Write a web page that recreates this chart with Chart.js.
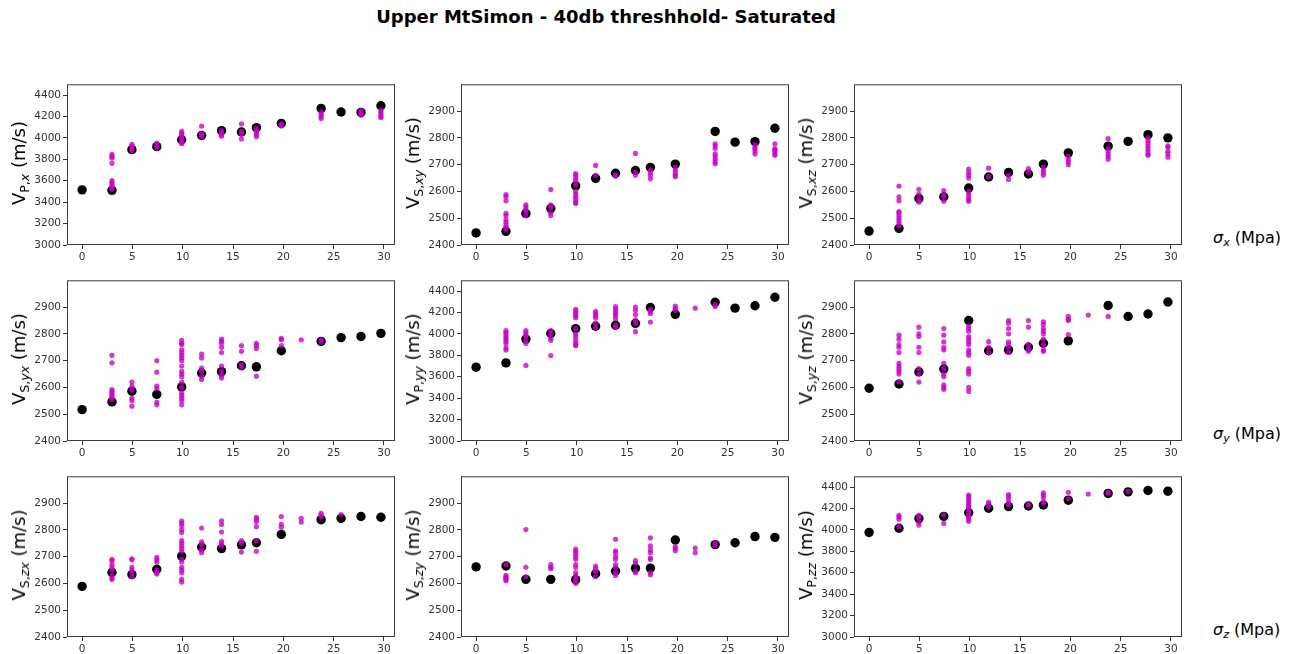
<!DOCTYPE html>
<html>
<head>
<meta charset="utf-8">
<script src="https://cdn.jsdelivr.net/npm/chart.js@4.4.0/dist/chart.umd.min.js"></script>
<style>
  body { margin: 0; background: #fff; font-family: "DejaVu Sans", sans-serif; }
  #page { position: relative; width: 1295px; height: 654px; overflow: hidden; }
  #title { position: absolute; left: 0; width: 1212px; top: 6px; text-align: center;
           font-weight: bold; font-size: 18px; color: #000; }
  .panel { position: absolute; }
  .ylab { position: absolute; white-space: nowrap; font-size: 18px; color: #000;
          transform: translate(-50%, -50%) rotate(-90deg); }
  .ylab sub { font-size: 12.5px; vertical-align: -4px; }
  .sig { position: absolute; white-space: nowrap; font-size: 16px; color: #000;
         transform: translateY(-50%); }
  .sig sub { font-size: 11px; vertical-align: -3px; }
</style>
</head>
<body>
<div id="page">
  <div id="title">Upper MtSimon - 40db threshhold- Saturated</div>
</div>
<script>
// confining stress steps (Mpa)
const stress = [0, 2.97, 4.95, 7.425, 9.9, 11.88, 13.86, 15.84, 17.325, 19.8, 21.78, 23.76, 25.74, 27.72, 29.7];
const xTicks = [0, 5, 10, 15, 20, 25, 30];
const pTicks = [3000, 3200, 3400, 3600, 3800, 4000, 4200, 4400];
const sTicks = [2400, 2500, 2600, 2700, 2800, 2900];

// --- sigma x ---
const vpxMean = [3515, 3510, 3890, 3918, 3982, 4022, 4067, 4055, 4095, 4135, null, 4275, 4241, 4238, 4300];
const vpxAll = [[], [3845, 3826, 3811, 3762, 3600, 3583, 3561, 3546, 3531, 3520], [3940, 3925, 3910, 3895, 3880],
  [3950, 3930, 3905], [4060, 4045, 4030, 4010, 3990, 3970, 3955, 3945], [4110, 4040, 4030, 4010],
  [4070, 4050, 4030, 4015], [4130, 4060, 4040, 3990], [4090, 4070, 4050, 4030, 4010], [4130, 4120, 4110], [],
  [4240, 4220, 4200, 4180], [], [4255, 4240, 4220, 4210], [4260, 4240, 4220, 4200, 4190]];

const vsxyMean = [2445, 2451, 2517, 2536, 2621, 2649, 2668, 2678, 2690, 2702, null, 2824, 2784, 2786, 2836];
const vsxyAll = [[], [2588, 2580, 2565, 2518, 2510, 2495, 2485, 2475, 2466, 2458], [2550, 2542, 2533, 2524, 2510],
  [2607, 2550, 2540, 2520, 2510], [2667, 2660, 2650, 2640, 2625, 2600, 2590, 2580, 2570, 2560, 2555], [2697, 2660],
  [2657, 2662], [2742, 2670, 2660], [2680, 2670, 2660, 2647], [2690, 2680, 2670, 2660, 2655], [],
  [2778, 2770, 2760, 2740, 2730, 2720, 2710, 2703], [], [2775, 2765, 2760, 2750, 2740], [2778, 2760, 2755, 2750, 2740, 2735]];

const vsxzMean = [2452, 2462, 2574, 2580, 2613, 2654, 2671, 2665, 2702, 2744, null, 2769, 2787, 2812, 2800];
const vsxzAll = [[], [2620, 2580, 2565, 2525, 2520, 2510, 2500, 2490, 2480, 2470], [2608, 2590, 2570, 2560],
  [2603, 2590, 2580, 2563], [2683, 2670, 2660, 2650, 2600, 2590, 2580, 2570, 2563], [2687, 2655], [2645, 2660],
  [2685, 2672], [2690, 2680, 2670, 2660], [2730, 2720, 2710, 2700], [], [2797, 2760, 2750, 2740, 2730, 2720], [],
  [2800, 2790, 2780, 2770, 2760, 2750, 2740, 2735], [2770, 2765, 2750, 2740, 2728]];

// --- sigma y ---
const vsyxMean = [2517, 2546, 2586, 2574, 2602, 2654, 2659, 2681, 2677, 2737, null, 2772, 2786, 2790, 2802];
const vsyxAll = [[], [2720, 2692, 2592, 2585, 2578, 2570, 2563, 2555], [2620, 2605, 2590, 2560, 2550, 2530],
  [2700, 2657, 2605, 2595, 2545, 2535],
  [2776, 2765, 2760, 2740, 2730, 2720, 2710, 2700, 2680, 2660, 2650, 2640, 2620, 2600, 2580, 2570, 2560, 2550, 2535],
  [2724, 2710, 2672, 2660, 2640, 2630], [2780, 2772, 2765, 2750, 2730, 2680, 2660, 2645, 2635], [2756, 2735, 2685, 2675],
  [2765, 2757, 2745, 2642], [2783, 2778, 2756], [2778], [2778, 2770], [], [], []];

const vpyyMean = [3689, 3729, 3951, 4003, 4049, 4071, 4080, 4098, 4246, 4182, null, 4295, 4240, 4262, 4342];
const vpyyAll = [[], [4030, 4010, 3990, 3970, 3950, 3930, 3910, 3870, 3850], [4030, 4010, 3990, 3970, 3930, 3910, 3705],
  [4030, 4000, 3960, 3940, 3797], [4230, 4210, 4190, 4170, 4150, 4050, 4000, 3980, 3950, 3920, 3900, 3890],
  [4210, 4190, 4170, 4150, 4100, 4060], [4255, 4230, 4210, 4190, 4170, 4140, 4080, 4060],
  [4250, 4220, 4180, 4130, 4100, 4020], [4230, 4210, 4190, 4110], [4260, 4240, 4220], [4240], [4255, 4270], [], [], []];

const vsyzMean = [2597, 2613, 2658, 2669, 2850, 2737, 2740, 2750, 2765, 2774, null, 2906, 2865, 2874, 2919];
const vsyzAll = [[], [2795, 2780, 2760, 2750, 2730, 2690, 2680, 2670, 2660, 2650, 2620],
  [2825, 2800, 2790, 2750, 2730, 2670, 2650, 2620], [2820, 2795, 2770, 2750, 2740, 2690, 2670, 2650, 2640, 2610, 2600, 2593],
  [2830, 2820, 2810, 2790, 2780, 2770, 2760, 2740, 2730, 2720, 2670, 2660, 2650, 2600, 2585], [2771, 2750, 2730],
  [2850, 2840, 2820, 2800, 2770, 2760, 2750, 2730], [2850, 2825, 2760, 2745, 2735],
  [2845, 2835, 2820, 2810, 2800, 2780, 2760, 2740, 2735], [2865, 2855, 2850, 2797], [2870], [2865], [], [], []];

// --- sigma z ---
const vszxMean = [2589, 2641, 2633, 2653, 2702, 2736, 2730, 2744, 2752, 2783, null, 2838, 2843, 2850, 2847];
const vszxAll = [[], [2690, 2685, 2670, 2660, 2650, 2630, 2620, 2615], [2692, 2688, 2660, 2650, 2640, 2625],
  [2697, 2688, 2680, 2650, 2640, 2635],
  [2833, 2825, 2815, 2800, 2790, 2760, 2750, 2740, 2730, 2720, 2690, 2680, 2660, 2650, 2640, 2615, 2605],
  [2807, 2755, 2745, 2725, 2715], [2834, 2820, 2792, 2757, 2750, 2740], [2760, 2750, 2717],
  [2847, 2840, 2830, 2812, 2760, 2720], [2850, 2821, 2810], [2843, 2829], [2862, 2855, 2848], [2857], [], []];

const vszyMean = [2662, 2665, 2615, 2615, 2614, 2636, 2646, 2657, 2657, 2762, null, 2745, 2752, 2775, 2772];
const vszyAll = [[], [2670, 2630, 2625, 2620, 2615, 2610], [2801, 2660, 2625], [2670, 2660, 2655],
  [2728, 2720, 2710, 2700, 2690, 2670, 2660, 2640, 2630, 2620, 2610, 2600], [2665, 2655, 2645, 2625],
  [2765, 2722, 2715, 2700, 2690, 2670, 2660, 2640, 2630], [2685, 2675, 2645, 2640],
  [2770, 2740, 2725, 2715, 2695, 2690, 2640, 2632], [2738, 2730, 2722], [2732, 2715], [2752, 2742], [], [], []];

const vpzzMean = [3976, 4015, 4105, 4126, 4160, 4202, 4217, 4223, 4232, 4277, null, 4340, 4355, 4367, 4361];
const vpzzAll = [[], [4135, 4120, 4100, 4030], [4135, 4115, 4070, 4045], [4140, 4060],
  [4325, 4310, 4290, 4270, 4250, 4230, 4210, 4190, 4170, 4140, 4120, 4100, 4080], [4260, 4240, 4215],
  [4330, 4310, 4280, 4250, 4230], [4240, 4230], [4345, 4325, 4300, 4260, 4250], [4350, 4290], [4335],
  [4350, 4345], [4360], [], []];

const panels = [
  { mean: vpxMean,  all: vpxAll,  p: true,  lab: 'V<sub>P,<i>x</i></sub> (m/s)' },
  { mean: vsxyMean, all: vsxyAll, p: false, lab: 'V<sub>S,<i>xy</i></sub> (m/s)' },
  { mean: vsxzMean, all: vsxzAll, p: false, lab: 'V<sub>S,<i>xz</i></sub> (m/s)' },
  { mean: vsyxMean, all: vsyxAll, p: false, lab: 'V<sub>S,<i>yx</i></sub> (m/s)' },
  { mean: vpyyMean, all: vpyyAll, p: true,  lab: 'V<sub>P,<i>yy</i></sub> (m/s)' },
  { mean: vsyzMean, all: vsyzAll, p: false, lab: 'V<sub>S,<i>yz</i></sub> (m/s)' },
  { mean: vszxMean, all: vszxAll, p: false, lab: 'V<sub>S,<i>zx</i></sub> (m/s)' },
  { mean: vszyMean, all: vszyAll, p: false, lab: 'V<sub>S,<i>zy</i></sub> (m/s)' },
  { mean: vpzzMean, all: vpzzAll, p: true,  lab: 'V<sub>P,<i>zz</i></sub> (m/s)' }
];
const sigmaLabels = ['x', 'y', 'z'];

const colLeft = [67, 461, 854];
const rowTop = [81, 277, 473];
const plotW = 328, plotH = 164;
const yAxisW = 45, xAxisH = 22, padTop = 5, padRight = 6;

// box round the plot area
const frame = {
  id: 'frame',
  afterDraw(chart) {
    const a = chart.chartArea, c = chart.ctx;
    c.save();
    c.strokeStyle = '#3c3c3c';
    c.lineWidth = 1;
    c.strokeRect(a.left + 0.5, a.top + 0.5, a.right - a.left - 1, a.bottom - a.top - 1);
    c.restore();
  }
};

const page = document.getElementById('page');
const tickFont = { family: 'DejaVu Sans', size: 10.5 };

panels.forEach((pn, i) => {
  const r = Math.floor(i / 3), col = i % 3;
  const left = colLeft[col], top = rowTop[r];

  const box = document.createElement('div');
  box.className = 'panel';
  box.style.left = (left - yAxisW) + 'px';
  box.style.top = (top - padTop) + 'px';
  const cv = document.createElement('canvas');
  cv.width = yAxisW + plotW + padRight;
  cv.height = padTop + plotH + xAxisH;
  box.appendChild(cv);
  page.appendChild(box);

  const lab = document.createElement('div');
  lab.className = 'ylab';
  lab.innerHTML = pn.lab;
  lab.style.left = (left - 47) + 'px';
  lab.style.top = (top + plotH / 2) + 'px';
  page.appendChild(lab);

  const pink = [];
  pn.all.forEach((vals, k) => vals.forEach(v => pink.push({ x: stress[k], y: v })));
  const black = [];
  pn.mean.forEach((v, k) => { if (v !== null) black.push({ x: stress[k], y: v }); });

  const yT = pn.p ? pTicks : sTicks;

  new Chart(cv, {
    type: 'scatter',
    data: {
      datasets: [
        { data: pink, backgroundColor: 'rgba(200,0,200,0.78)', borderWidth: 0, pointRadius: 2.6 },
        { data: black, backgroundColor: '#000', borderWidth: 0, pointRadius: 4.7 }
      ]
    },
    options: {
      responsive: false,
      animation: false,
      devicePixelRatio: 1,
      events: [],
      layout: { padding: { top: padTop, right: padRight, left: 0, bottom: 0 } },
      plugins: { legend: { display: false }, tooltip: { enabled: false } },
      scales: {
        x: {
          type: 'linear', min: -1.5, max: 31.1,
          afterBuildTicks: s => { s.ticks = xTicks.map(v => ({ value: v })); },
          afterFit: s => { s.height = xAxisH; },
          grid: { display: true, drawOnChartArea: false, tickLength: 4, tickColor: '#333' },
          border: { display: false },
          ticks: { font: tickFont, color: '#333', padding: 2, maxRotation: 0, callback: v => String(v) }
        },
        y: {
          type: 'linear', min: pn.p ? 3000 : 2400, max: pn.p ? 4500 : 3000,
          afterBuildTicks: s => { s.ticks = yT.map(v => ({ value: v })); },
          afterFit: s => { s.width = yAxisW; },
          grid: { display: true, drawOnChartArea: false, tickLength: 4, tickColor: '#333' },
          border: { display: false },
          ticks: { font: tickFont, color: '#333', padding: 2, callback: v => String(v) }
        }
      }
    },
    plugins: [frame]
  });
});

sigmaLabels.forEach((s, r) => {
  const d = document.createElement('div');
  d.className = 'sig';
  d.innerHTML = '<i>σ</i><sub><i>' + s + '</i></sub> (Mpa)';
  d.style.left = '1213px';
  d.style.top = (rowTop[r] + plotH - 7) + 'px';
  page.appendChild(d);
});
</script>
</body>
</html>
